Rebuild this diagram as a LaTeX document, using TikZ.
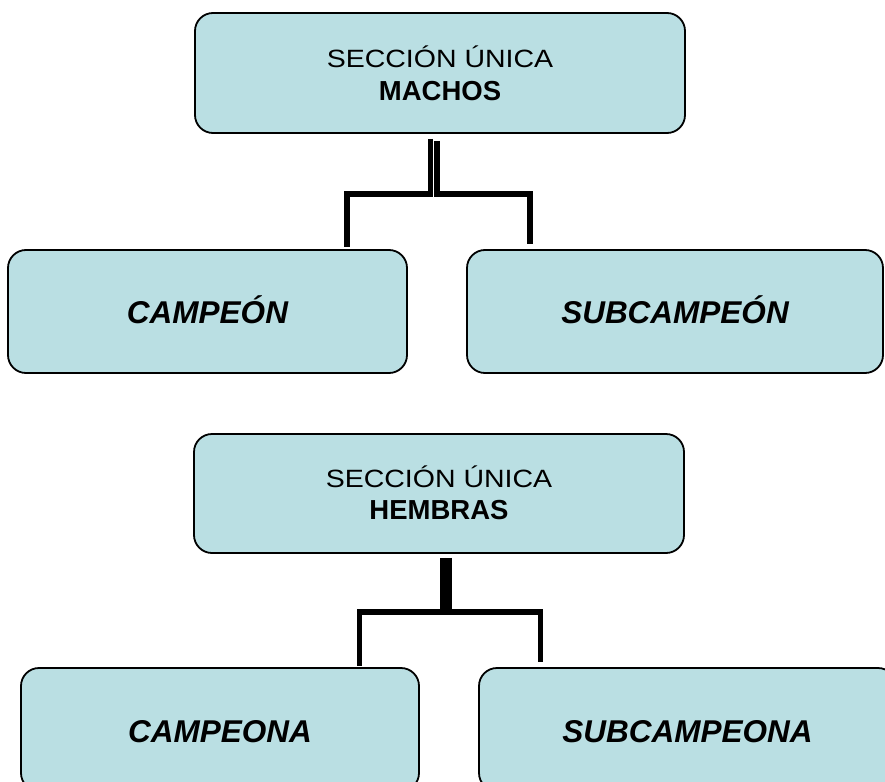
\documentclass[tikz,border=0pt]{standalone}
\usepackage{fontspec}
\setmainfont{Liberation Sans}
\newfontfamily\widesans[FakeStretch=1.14]{Liberation Sans}
\definecolor{boxfill}{RGB}{186,223,227}
\tikzset{
  box/.style={draw=black, line width=1.8pt, fill=boxfill, rounded corners=18pt,
    inner sep=0pt, align=center},
  topbox/.style={box, minimum width=490pt, minimum height=120pt,
    font=\fontsize{25}{32.5}\selectfont, text height=20pt},
  leafbox/.style={box, minimum height=123pt,
    font=\fontsize{31.5}{36}\selectfont\bfseries\itshape, text depth=0pt},
  conn/.style={draw=black, line width=5.5pt}
}
\begin{document}
\begin{tikzpicture}[x=1pt, y=-1pt]
\useasboundingbox (0,0) rectangle (885,781);
\clip (0,0) rectangle (885,781);
% ---- MACHOS ----
\node[topbox, text depth=30pt] (m1) at (440,73)
  {\begin{tabular}[t]{@{}c@{}}{\widesans SECCIÓN ÚNICA}\\{\fontsize{27.5}{32}\selectfont\bfseries MACHOS}\end{tabular}};
\node[leafbox, minimum width=399pt, text height=23pt] (c1) at (207.5,311.5) {CAMPEÓN};
\node[leafbox, minimum width=416pt, text height=23pt] (s1) at (675,311.5) {SUBCAMPEÓN};
\draw[conn] ([xshift=-9.5pt,yshift=-5pt]m1.south) -- ++(0,55) -| ([xshift=139.5pt,yshift=2pt]c1.north);
\draw[conn] ([xshift=-3pt,yshift=-7pt]m1.south) -- ++(0,53) -| ([xshift=-145pt,yshift=5pt]s1.north);
% ---- HEMBRAS ----
\node[topbox, minimum height=119pt, text depth=33pt] (m2) at (439,493.5)
  {\begin{tabular}[t]{@{}c@{}}{\widesans SECCIÓN ÚNICA}\\{\fontsize{27.5}{32}\selectfont\bfseries HEMBRAS}\end{tabular}};
\node[leafbox, minimum width=398pt, text height=25pt] (c2) at (220,729.5) {CAMPEONA};
\node[leafbox, minimum width=417pt, text height=25pt] (s2) at (687.5,729.5) {SUBCAMPEONA};
\draw[conn] ([xshift=4pt,yshift=-4pt]m2.south) -- ++(0,54) -| ([xshift=139.5pt,yshift=1pt]c2.north);
\draw[conn] ([xshift=10pt,yshift=-4pt]m2.south) -- ++(0,54) -| ([xshift=-147pt,yshift=5pt]s2.north);
\end{tikzpicture}
\end{document}
